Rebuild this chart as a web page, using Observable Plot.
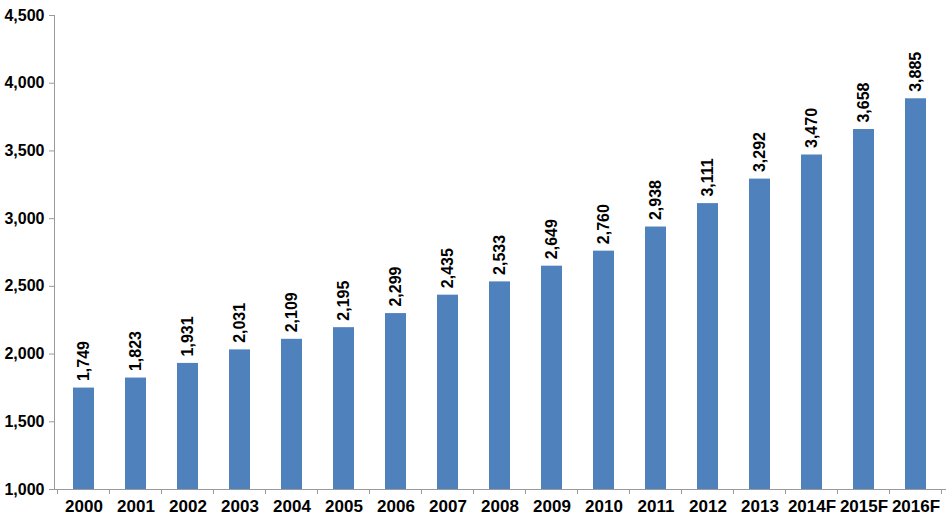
<!DOCTYPE html>
<html>
<head>
<meta charset="utf-8">
<script src="https://cdn.jsdelivr.net/npm/d3@7"></script>
<script src="https://cdn.jsdelivr.net/npm/@observablehq/plot@0.6"></script>
<style>
  html, body { margin: 0; padding: 0; background: #fff; }
  #chart svg { display: block; }
</style>
</head>
<body>
<div id="chart"></div>
<script>
const years = ["2000","2001","2002","2003","2004","2005","2006","2007","2008","2009","2010","2011","2012","2013","2014F","2015F","2016F"];
const values = [1749,1823,1931,2031,2109,2195,2299,2435,2533,2649,2760,2938,3111,3292,3470,3658,3885];
const yTicks = [1000,1500,2000,2500,3000,3500,4000,4500];

const data = years.map((y, i) => ({year: y, value: values[i]}));
const fmt = d3.format(",");
const font = "'Liberation Sans', Arial, sans-serif";

// tick marks at category boundaries, positioned from the band scale
function boundaryTicks(index, scales, values, dims) {
  const x = scales.x;
  const step = x.step();
  const off = (step - x.bandwidth()) / 2;
  const y0 = dims.height - dims.marginBottom;
  const g = d3.create("svg:g").attr("stroke", "#9a9a9a").attr("stroke-width", 1);
  const pos = years.map(c => x(c) - off);
  pos.push(x(years[years.length - 1]) + x.bandwidth() + off);
  for (const p of pos) {
    g.append("line").attr("x1", p).attr("x2", p).attr("y1", y0).attr("y2", y0 + 5);
  }
  return g.node();
}

const chart = Plot.plot({
  width: 951,
  height: 524,
  marginTop: 15,
  marginBottom: 35,
  marginLeft: 54,
  marginRight: 6,
  style: {fontFamily: font, background: "#fff"},
  x: {domain: years, paddingInner: 0.6, paddingOuter: 0.3, label: null},
  y: {domain: [1000, 4500], label: null},
  marks: [
    Plot.barY(data, {x: "year", y1: 1000, y2: "value", fill: "#4f81bd"}),
    Plot.text(data, {x: "year", y: "value", text: d => fmt(d.value), rotate: -90, textAnchor: "start", lineAnchor: "middle", dy: -7, fontSize: 16, fontWeight: "bold", fill: "#000"}),
    Plot.axisY({ticks: yTicks, tickFormat: fmt, tickSize: 5, tickPadding: 5, stroke: "#9a9a9a", fontSize: 16, fontWeight: "bold", fill: "#000", label: null}),
    Plot.frame({anchor: "left", stroke: "#9a9a9a"}),
    Plot.frame({anchor: "bottom", stroke: "#9a9a9a"}),
    Plot.axisX({tickSize: 0, tickPadding: 10, fontSize: 17, fontWeight: "bold", fill: "#000", label: null}),
    boundaryTicks
  ]
});
document.getElementById("chart").appendChild(chart);
</script>
</body>
</html>
